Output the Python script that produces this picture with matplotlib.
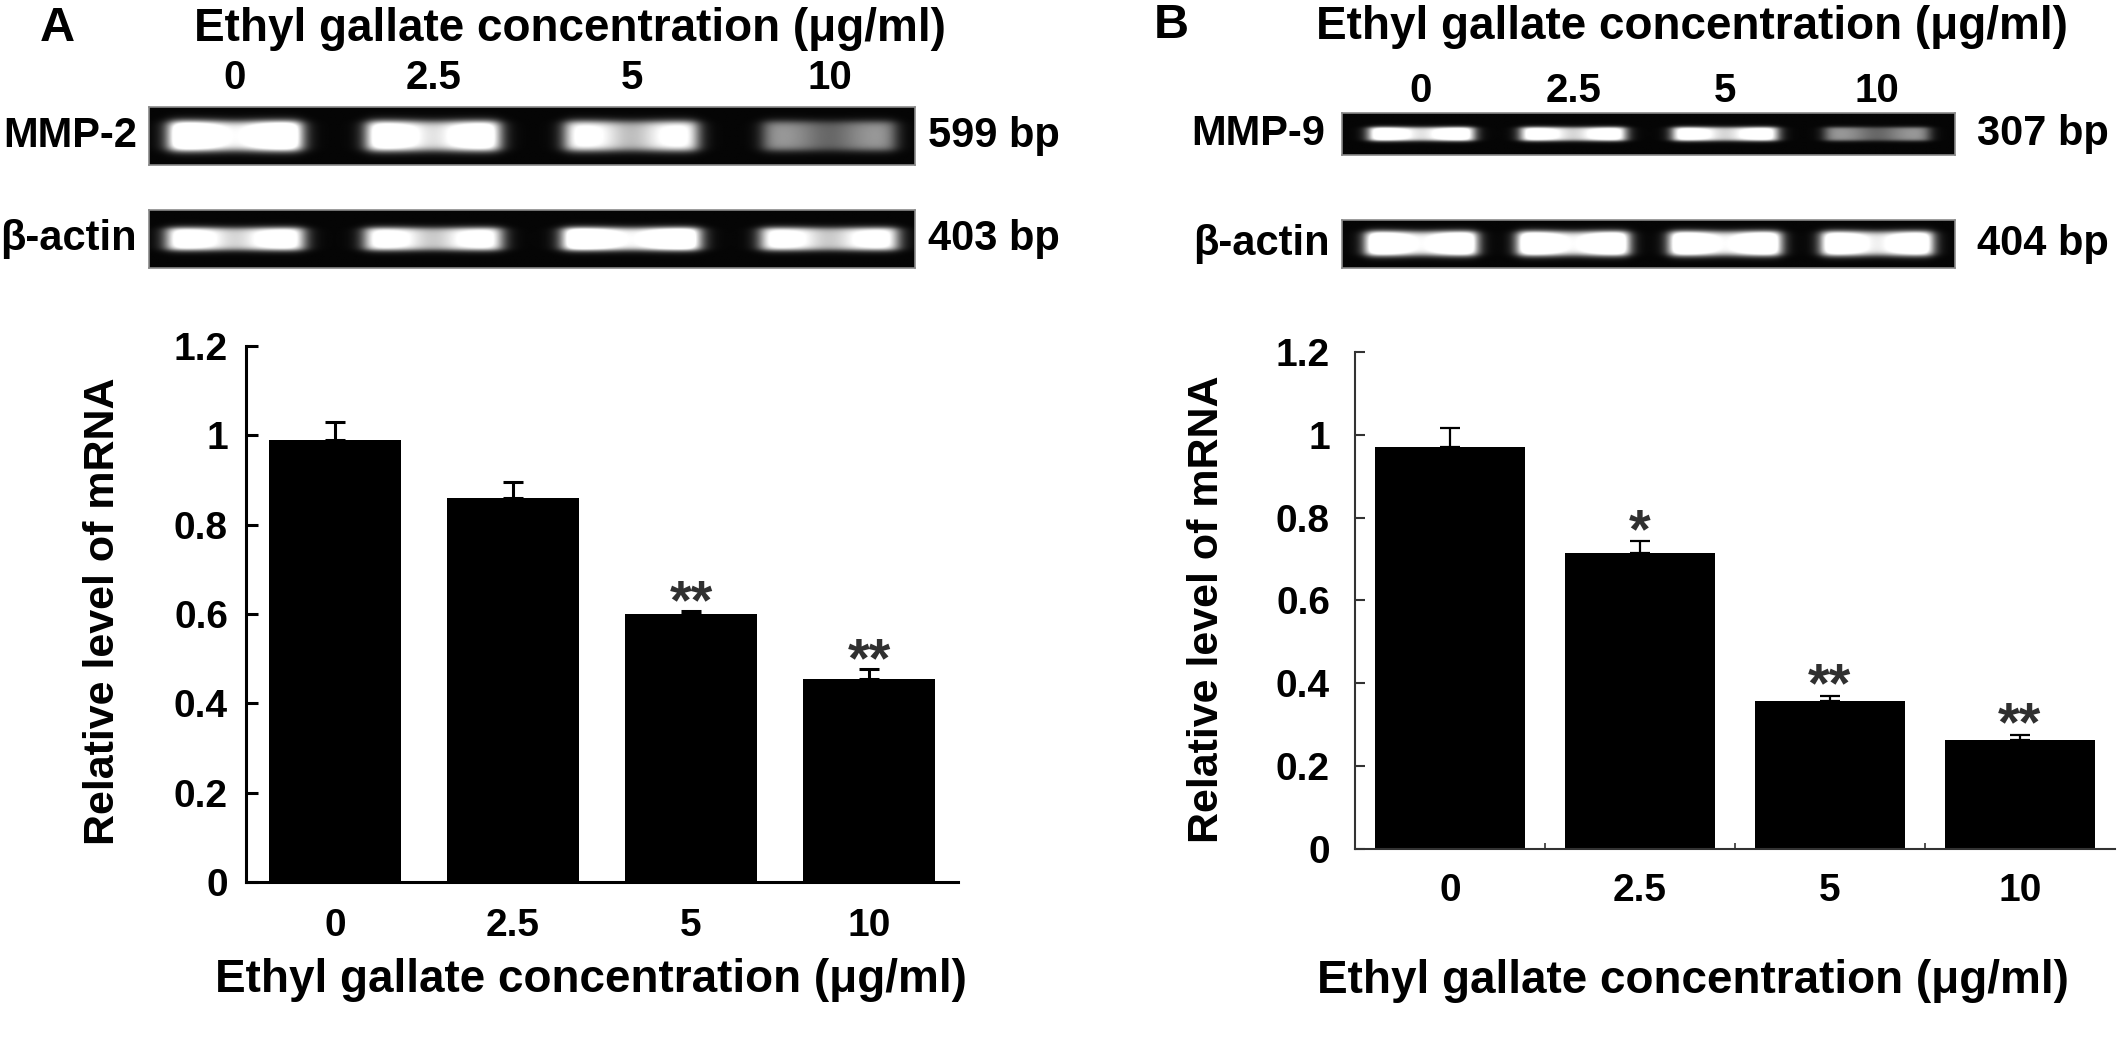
import numpy as np
import matplotlib
matplotlib.use("Agg")
import matplotlib.pyplot as plt

plt.rcParams['font.family'] = ['Liberation Sans', 'DejaVu Sans']
plt.rcParams['font.weight'] = 'bold'

# ---- data ----
conc = ['0', '2.5', '5', '10']
xlabel = 'Ethyl gallate concentration (μg/ml)'
ylabel = 'Relative level of mRNA'
yticks = [0, 0.2, 0.4, 0.6, 0.8, 1.0, 1.2]
ytick_labels = ['0', '0.2', '0.4', '0.6', '0.8', '1', '1.2']

# panel A : MMP-2
mmp2_mean = [0.99, 0.86, 0.60, 0.455]
mmp2_err = [0.04, 0.035, 0.006, 0.022]
mmp2_sig = ['', '', '**', '**']

# panel B : MMP-9
mmp9_mean = [0.97, 0.715, 0.357, 0.263]
mmp9_err = [0.047, 0.028, 0.013, 0.012]
mmp9_sig = ['', '*', '**', '**']

# band brightness in the gel pictures (0 = dark, 1 = saturated)
mmp2_band = [1.0, 0.9, 0.75, 0.4]
actin_a_band = [0.85, 0.8, 1.0, 0.8]
mmp9_band = [0.9, 0.85, 0.85, 0.4]
actin_b_band = [1.0, 1.0, 1.0, 0.95]


def gel_image(bands, band_w, band_h, xlim, nx=700, ny=80):
    """image d'un gel : fond noir + une bande floue par piste"""
    xs = np.linspace(xlim[0], xlim[1], nx)
    ys = np.linspace(-0.5, 0.5, ny)
    img = np.full((ny, nx), 0.02)
    for i, b in enumerate(bands):
        dx = np.abs(xs - i) / (band_w / 2)
        px = 1 / (1 + np.exp((dx - 1) * 14))
        dip = 1 - 0.35 * np.exp(-((xs - i) / (band_w * 0.22)) ** 2)
        dy = np.abs(ys) / (band_h / 2)
        py = 1 / (1 + np.exp((dy - 1) * 7))
        img += 1.5 * b * np.outer(py, px * dip)
    return np.clip(img, 0, 1)


def draw_gel(ax, bands, xlim, band_w, band_h, left_lab, right_lab,
             lab_gap, bp_gap, lanes=False, lane_pad=8):
    img = gel_image(bands, band_w, band_h, xlim)
    ax.imshow(img, cmap='gray', vmin=0, vmax=1, aspect='auto',
              extent=[xlim[0], xlim[1], -0.5, 0.5], interpolation='bilinear')
    ax.set_xlim(xlim)
    ax.set_ylim(-0.5, 0.5)
    ax.set_yticks([])
    for s in ax.spines.values():
        s.set_color('#8a8a8a')
        s.set_linewidth(1.2)
    if lanes:
        ax.xaxis.tick_top()
        ax.set_xticks(range(len(conc)))
        ax.set_xticklabels(conc, fontsize=29, fontweight='bold')
        ax.tick_params(axis='x', length=0, pad=lane_pad)
    else:
        ax.set_xticks([])
    ax.text(-lab_gap, 0.5, left_lab, transform=ax.transAxes, ha='right',
            va='center', fontsize=30, fontweight='bold')
    ax.text(1 + bp_gap, 0.5, right_lab, transform=ax.transAxes, ha='left',
            va='center', fontsize=30, fontweight='bold')


def draw_bars(ax, means, errs, sig, width, star_dy, thin=False):
    x = np.arange(len(conc))
    ax.bar(x, means, width=width, color='black', zorder=2)
    lw = 1.6 if thin else 2.2
    ax.errorbar(x, means, yerr=[np.zeros(len(errs)), errs], fmt='none',
                ecolor='black', elinewidth=lw, capsize=7, capthick=lw, zorder=1)
    for xi, m, e, s in zip(x, means, errs, sig):
        if s:
            ax.annotate(s, xy=(xi, m + e), xytext=(0, star_dy),
                        textcoords='offset points', ha='center', va='baseline',
                        fontsize=40, fontweight='bold', color='#303030')
    ax.set_xlim(-0.5, 3.5)
    ax.set_ylim(0, 1.2)
    ax.set_yticks(yticks)
    ax.set_yticklabels(ytick_labels, fontsize=28, fontweight='bold')
    ax.set_xticks(x)
    ax.set_xticklabels(conc, fontsize=28, fontweight='bold')
    ax.spines['top'].set_visible(False)
    ax.spines['right'].set_visible(False)
    if thin:
        for s in ['left', 'bottom']:
            ax.spines[s].set_linewidth(1.5)
            ax.spines[s].set_color('#333333')
        ax.tick_params(axis='y', direction='in', length=7, width=1.5,
                       color='#333333', pad=18)
        ax.tick_params(axis='x', length=0, pad=17)
        ax.set_xticks([0.5, 1.5, 2.5], minor=True)
        ax.tick_params(axis='x', which='minor', direction='in', length=4,
                       width=1.2, color='#333333')
    else:
        for s in ['left', 'bottom']:
            ax.spines[s].set_linewidth(2.2)
        ax.tick_params(axis='y', direction='in', length=8.5, width=2.2, pad=13)
        ax.tick_params(axis='x', length=0, pad=19)


fig = plt.figure(figsize=(21.26, 10.62), dpi=100)

# ---- panel A ----
g1 = fig.add_axes([0.0701, 0.8446, 0.3603, 0.0546])
draw_gel(g1, mmp2_band, (-0.433, 3.43), 0.66, 0.5, 'MMP-2', '599 bp',
         0.016, 0.017, lanes=True, lane_pad=7)
g2 = fig.add_axes([0.0701, 0.7476, 0.3603, 0.0546])
draw_gel(g2, actin_a_band, (-0.433, 3.43), 0.68, 0.38, 'β-actin', '403 bp',
         0.016, 0.017)

axA = fig.add_axes([0.1157, 0.1695, 0.3349, 0.5047])
draw_bars(axA, mmp2_mean, mmp2_err, mmp2_sig, 0.74, -5)

fig.text(0.0268, 0.973, 'A', fontsize=35, fontweight='bold', ha='center', va='center')
fig.text(0.268, 0.973, xlabel, fontsize=33, fontweight='bold', ha='center', va='center')
fig.text(0.278, 0.0772, xlabel, fontsize=33, fontweight='bold', ha='center', va='center')
fig.text(0.0484, 0.4247, ylabel, fontsize=31, fontweight='bold', ha='center',
         va='center', rotation=90)

# ---- panel B ----
g3 = fig.add_axes([0.6312, 0.8540, 0.2883, 0.0395])
draw_gel(g3, mmp9_band, (-0.52, 3.51), 0.68, 0.32, 'MMP-9', '307 bp',
         0.028, 0.036, lanes=True, lane_pad=2)
g4 = fig.add_axes([0.6312, 0.7476, 0.2883, 0.0452])
draw_gel(g4, actin_b_band, (-0.52, 3.51), 0.72, 0.48, 'β-actin', '404 bp',
         0.02, 0.036)

axB = fig.add_axes([0.6373, 0.2006, 0.3575, 0.4680])
draw_bars(axB, mmp9_mean, mmp9_err, mmp9_sig, 0.79, -4, thin=True)

fig.text(0.551, 0.976, 'B', fontsize=35, fontweight='bold', ha='center', va='center')
fig.text(0.796, 0.975, xlabel, fontsize=33, fontweight='bold', ha='center', va='center')
fig.text(0.7965, 0.0763, xlabel, fontsize=33, fontweight='bold', ha='center', va='center')
fig.text(0.5677, 0.4266, ylabel, fontsize=31, fontweight='bold', ha='center',
         va='center', rotation=90)

fig.savefig('out.png', dpi=100)
